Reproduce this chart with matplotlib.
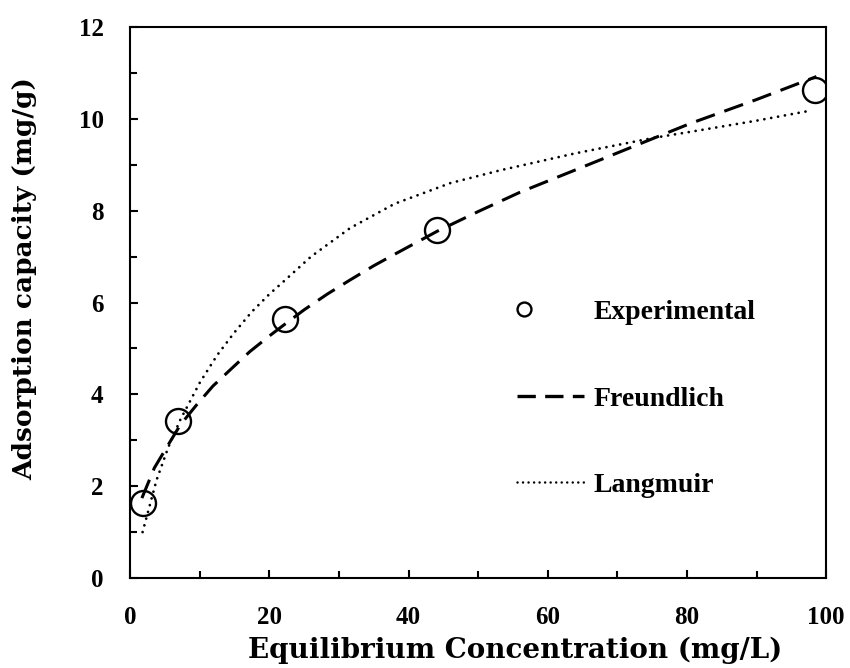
# Adsorption isotherm: experimental points with Freundlich and Langmuir fits

import matplotlib
matplotlib.use("Agg")
import matplotlib.pyplot as plt
from matplotlib.lines import Line2D
from matplotlib.legend_handler import HandlerLine2D
from matplotlib.ticker import MultipleLocator

plt.rcParams['font.family'] = ['Liberation Serif', 'DejaVu Serif']
plt.rcParams['font.weight'] = 'bold'

# data
exp_c = [1.8, 6.9, 22.3, 44.1, 98.4]
exp_q = [1.63, 3.42, 5.64, 7.58, 10.63]

freu_c = [1.7, 3.5, 5.0, 7.2, 9.5, 11.9, 14.5, 17.2, 20.0, 22.0, 25.0, 28.3, 31.6,
          35.0, 38.0, 44.1, 50.0, 56.0, 65.0, 72.0, 80.5, 90.0, 98.6]
freu_q = [1.74, 2.40, 2.78, 3.33, 3.76, 4.18, 4.55, 4.93, 5.27, 5.50, 5.84, 6.18, 6.49,
          6.80, 7.05, 7.55, 7.98, 8.40, 8.95, 9.38, 9.90, 10.42, 10.92]

lang_c = [1.8, 3.8, 5.5, 7.2, 10.0, 12.5, 15.0, 17.5, 20.0, 22.0, 26.0, 31.6, 38.0,
          46.0, 53.2, 64.0, 75.0, 81.4, 90.0, 97.8]
lang_q = [1.00, 2.13, 2.85, 3.44, 4.25, 4.85, 5.35, 5.80, 6.18, 6.45, 7.00, 7.62, 8.15,
          8.60, 8.88, 9.25, 9.58, 9.74, 9.96, 10.18]


class LeftMarker(HandlerLine2D):
    # single legend marker sits near the left end of the handle, like the original
    def get_xdata(self, legend, xdescent, ydescent, width, height, fontsize):
        xd, xm = super().get_xdata(legend, xdescent, ydescent, width, height, fontsize)
        return [-xdescent, -xdescent + 0.2 * width], xm


fig = plt.figure(figsize=(8.5, 6.68), dpi=100)
ax = fig.add_axes([0.153, 0.1347, 0.819, 0.8249])

ax.plot(freu_c, freu_q, color='black', lw=2.2, linestyle=(0, (6.5, 3.3)))
ax.plot(lang_c, lang_q, color='black', lw=2.0, linestyle=(0, (0.01, 2.5)),
        dash_capstyle='round')
ax.plot(exp_c, exp_q, 'o', ms=18, mfc='none', mec='black', mew=1.7)

ax.set_xlim(0, 100)
ax.set_ylim(0, 12)
ax.xaxis.set_major_locator(MultipleLocator(20))
ax.xaxis.set_minor_locator(MultipleLocator(10))
ax.yaxis.set_major_locator(MultipleLocator(2))
ax.yaxis.set_minor_locator(MultipleLocator(1))
ax.tick_params(which='both', direction='in', width=1.5, labelsize=18)
ax.tick_params(which='major', length=6)
ax.tick_params(which='minor', length=5)
ax.tick_params(axis='y', pad=19)
ax.tick_params(axis='x', pad=20)
for s in ax.spines.values():
    s.set_linewidth(1.5)

ax.set_xlabel('Equilibrium Concentration (mg/L)', fontsize=20, fontweight='bold',
              family='DejaVu Serif')
ax.set_ylabel('Adsorption capacity (mg/g)', fontsize=19, fontweight='bold',
              family='DejaVu Serif')
ax.xaxis.set_label_coords(0.553, -0.106)
ax.yaxis.set_label_coords(-0.134, 0.543)

h_exp = Line2D([], [], marker='o', ls='none', ms=10, mfc='none', mec='black', mew=1.7)
h_freu = Line2D([], [], color='black', lw=2.4, linestyle=(0, (5.5, 2.8)))
h_lang = Line2D([], [], color='black', lw=1.8, linestyle=(0, (0.01, 2.2)),
                dash_capstyle='round')
ax.legend([h_exp, h_freu, h_lang], ['Experimental', 'Freundlich', 'Langmuir'],
          handler_map={h_exp: LeftMarker(numpoints=1)},
          loc='center left', bbox_to_anchor=(0.556, 0.325), frameon=False,
          fontsize=20, handlelength=2.4, handletextpad=0.36, labelspacing=2.2,
          borderpad=0, borderaxespad=0)

fig.savefig('out.png', dpi=100)
